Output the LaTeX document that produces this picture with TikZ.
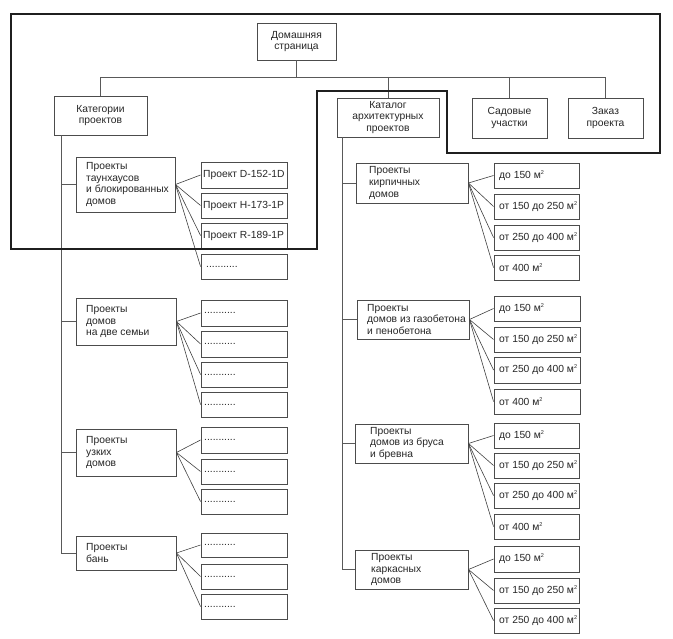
\documentclass[tikz,border=0pt]{standalone}
\usepackage{fontspec}
\setmainfont{Liberation Sans}
\usetikzlibrary{calc}
\newcommand\msq{м\raisebox{3.8pt}{\fontsize{5.5}{6}\selectfont 2}}
\newcommand\dts{...........}
\tikzset{
  boxst/.style={draw=black!70, line width=0.9pt, inner sep=0pt, fill=white},
  txt/.style={inner sep=0pt, align=left, text=black!85, font=\fontsize{10.3}{11.6}\selectfont},
  ctxt/.style={inner sep=0pt, align=center, text=black!85, font=\fontsize{10.3}{11.6}\selectfont},
  ln/.style={draw=black!65, line width=0.8pt},
  fan/.style={draw=black!75, line width=0.6pt},
  frame/.style={draw=black!88, line width=2.6pt, line join=miter}
}
% name, left, top, right, bottom, inset, text
\newcommand\bx[7]{%
  \node[boxst, minimum width={#4-#2}, minimum height={#5-#3}] (#1) at ({(#2+#4)/2},{(#3+#5)/2}) {};
  \node[txt, anchor=west] (#1t) at ({#2+#6},{(#3+#5)/2}) {#7};
}
% centered text box
\newcommand\cbx[6]{%
  \node[boxst, minimum width={#4-#2}, minimum height={#5-#3}] (#1) at ({(#2+#4)/2},{(#3+#5)/2}) {};
  \node[ctxt] (#1t) at ({(#2+#4)/2},{(#3+#5)/2}) {#6};
}
\begin{document}
\begin{tikzpicture}[x=1pt,y=-1pt]
\useasboundingbox (0,0) rectangle (673,639);

% top level
\cbx{home}{257}{23}{336}{60}{Домашняя\\страница}
\cbx{cat}{54}{96}{147}{135}{Категории\\проектов}
\cbx{catalog}{337}{98}{439}{137}{Каталог\\архитектурных\\проектов}
\cbx{sad}{472}{98}{547}{138}{Садовые\\участки}
\cbx{zakaz}{568}{98}{643}{138}{Заказ\\проекта}

\coordinate (bus) at (0,77);
\draw[ln] (home.south) -- (home.south |- bus);
\draw[ln] (cat.north) -- (cat.north |- bus) -- (zakaz.north |- bus) -- (zakaz.north);
\draw[ln] (catalog.north |- bus) -- (catalog.north);
\draw[ln] (sad.north |- bus) -- (sad.north);

% left column categories
\bx{town}{76}{157}{175}{212}{10}{Проекты\\таунхаусов\\и блокированных\\домов}
\bx{two}{76}{298}{176}{345}{10}{Проекты\\домов\\на две семьи}
\bx{narrow}{76}{429}{176}{476}{10}{Проекты\\узких\\домов}
\bx{bath}{76}{536}{176}{570}{10}{Проекты\\бань}

% left leaves
\bx{town1}{201}{162}{287}{188}{2}{Проект D-152-1D}
\bx{town2}{201}{193}{287}{218}{2}{Проект H-173-1P}
\bx{town3}{201}{223}{287}{248}{2}{Проект R-189-1P}
\bx{town4}{201}{254}{287}{279}{5}{\dts}
\bx{two1}{201}{300}{287}{326}{3}{\dts}
\bx{two2}{201}{331}{287}{357}{3}{\dts}
\bx{two3}{201}{362}{287}{387}{3}{\dts}
\bx{two4}{201}{392}{287}{417}{3}{\dts}
\bx{narrow1}{201}{427}{287}{453}{3}{\dts}
\bx{narrow2}{201}{459}{287}{484}{3}{\dts}
\bx{narrow3}{201}{489}{287}{514}{3}{\dts}
\bx{bath1}{201}{533}{287}{557}{3}{\dts}
\bx{bath2}{201}{564}{287}{589}{3}{\dts}
\bx{bath3}{201}{594}{287}{619}{3}{\dts}

% right column categories
\bx{brick}{356}{163}{468}{203}{13}{Проекты\\кирпичных\\домов}
\bx{gaz}{357}{300}{469}{339}{10}{Проекты\\домов из газобетона\\и пенобетона}
\bx{brus}{355}{424}{468}{463}{15}{Проекты\\домов из бруса\\и бревна}
\bx{karkas}{355}{550}{468}{589}{16}{Проекты\\каркасных\\домов}

% right leaves
\bx{brick1}{494}{163}{579}{188}{5}{до 150 \msq}
\bx{brick2}{494}{194}{579}{219}{5}{от 150 до 250 \msq}
\bx{brick3}{494}{225}{579}{250}{5}{от 250 до 400 \msq}
\bx{brick4}{494}{255}{579}{280}{5}{от 400 \msq}
\bx{gaz1}{494}{296}{580}{321}{5}{до 150 \msq}
\bx{gaz2}{494}{327}{580}{352}{5}{от 150 до 250 \msq}
\bx{gaz3}{494}{357}{580}{383}{5}{от 250 до 400 \msq}
\bx{gaz4}{494}{389}{580}{414}{5}{от 400 \msq}
\bx{brus1}{494}{423}{579}{448}{5}{до 150 \msq}
\bx{brus2}{494}{453}{579}{478}{5}{от 150 до 250 \msq}
\bx{brus3}{494}{483}{579}{508}{5}{от 250 до 400 \msq}
\bx{brus4}{494}{514}{579}{539}{5}{от 400 \msq}
\bx{karkas1}{494}{546}{579}{572}{5}{до 150 \msq}
\bx{karkas2}{494}{578}{579}{603}{5}{от 150 до 250 \msq}
\bx{karkas3}{494}{608}{579}{633}{5}{от 250 до 400 \msq}

% trunks
\coordinate (lt) at ($(cat.south west)+(8,0)$);
\draw[ln] (lt) |- (bath.west);
\foreach \b in {town,two,narrow} \draw[ln] (\b.west) -- (\b.west -| lt);
\coordinate (rt) at ($(catalog.south west)+(6,0)$);
\draw[ln] (rt) |- (karkas.west);
\foreach \b in {brick,gaz,brus} \draw[ln] (\b.west) -- (\b.west -| rt);

% fans
\foreach \i in {1,2,3,4} {
  \draw[fan] (town.east) -- (town\i.west);
  \draw[fan] (two.east) -- (two\i.west);
  \draw[fan] (brick.east) -- (brick\i.west);
  \draw[fan] (gaz.east) -- (gaz\i.west);
  \draw[fan] (brus.east) -- (brus\i.west);
}
\foreach \i in {1,2,3} {
  \draw[fan] (narrow.east) -- (narrow\i.west);
  \draw[fan] (bath.east) -- (bath\i.west);
  \draw[fan] (karkas.east) -- (karkas\i.west);
}

% thick frame
\draw[frame] (11,14) -- (660,14) -- (660,153) -- (447,153) -- (447,91) -- (317,91) -- (317,249) -- (11,249) -- cycle;
\end{tikzpicture}
\end{document}
